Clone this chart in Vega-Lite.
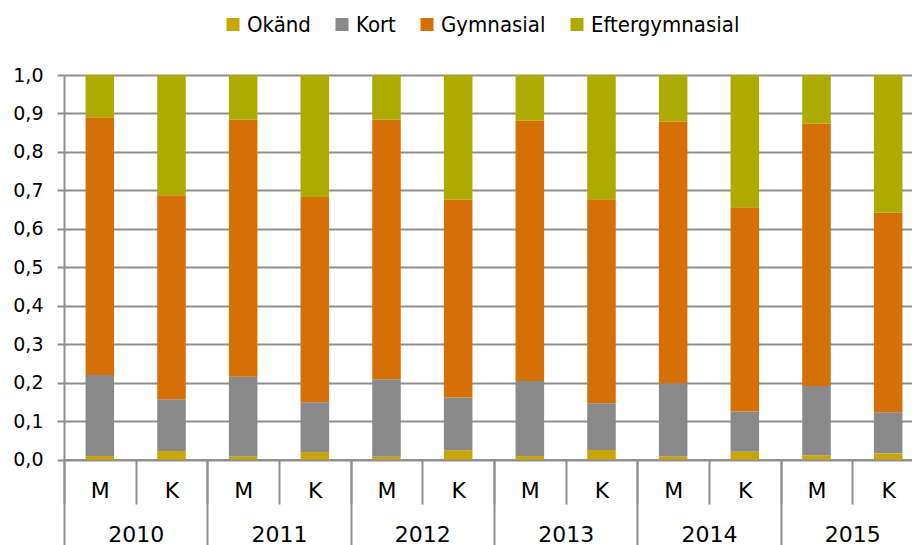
{
  "$schema": "https://vega.github.io/schema/vega-lite/v6.json",
  "width": 848,
  "height": 384.5,
  "autosize": {"type": "none"},
  "padding": {"left": 64, "top": 75, "right": 0, "bottom": 85.5},
  "background": "white",
  "config": {
    "view": {"stroke": null},
    "axis": {"labelFont": "DejaVu Sans", "labelColor": "#000000", "domainColor": "#8f8f8f", "tickColor": "#8f8f8f", "gridColor": "#8f8f8f", "domainWidth": 2, "tickWidth": 2, "gridWidth": 2, "title": null, "labelOverlap": false}
  },
  "data": {"values": [
    {"year":"2010","key":"2010 M","cat":"Okänd","ord":1,"value":0.009},
    {"year":"2010","key":"2010 M","cat":"Kort","ord":2,"value":0.211},
    {"year":"2010","key":"2010 M","cat":"Gymnasial","ord":3,"value":0.670},
    {"year":"2010","key":"2010 M","cat":"Eftergymnasial","ord":4,"value":0.110},
    {"year":"2010","key":"2010 K","cat":"Okänd","ord":1,"value":0.022},
    {"year":"2010","key":"2010 K","cat":"Kort","ord":2,"value":0.135},
    {"year":"2010","key":"2010 K","cat":"Gymnasial","ord":3,"value":0.530},
    {"year":"2010","key":"2010 K","cat":"Eftergymnasial","ord":4,"value":0.313},
    {"year":"2011","key":"2011 M","cat":"Okänd","ord":1,"value":0.008},
    {"year":"2011","key":"2011 M","cat":"Kort","ord":2,"value":0.207},
    {"year":"2011","key":"2011 M","cat":"Gymnasial","ord":3,"value":0.669},
    {"year":"2011","key":"2011 M","cat":"Eftergymnasial","ord":4,"value":0.116},
    {"year":"2011","key":"2011 K","cat":"Okänd","ord":1,"value":0.019},
    {"year":"2011","key":"2011 K","cat":"Kort","ord":2,"value":0.130},
    {"year":"2011","key":"2011 K","cat":"Gymnasial","ord":3,"value":0.534},
    {"year":"2011","key":"2011 K","cat":"Eftergymnasial","ord":4,"value":0.317},
    {"year":"2012","key":"2012 M","cat":"Okänd","ord":1,"value":0.007},
    {"year":"2012","key":"2012 M","cat":"Kort","ord":2,"value":0.202},
    {"year":"2012","key":"2012 M","cat":"Gymnasial","ord":3,"value":0.675},
    {"year":"2012","key":"2012 M","cat":"Eftergymnasial","ord":4,"value":0.116},
    {"year":"2012","key":"2012 K","cat":"Okänd","ord":1,"value":0.024},
    {"year":"2012","key":"2012 K","cat":"Kort","ord":2,"value":0.137},
    {"year":"2012","key":"2012 K","cat":"Gymnasial","ord":3,"value":0.515},
    {"year":"2012","key":"2012 K","cat":"Eftergymnasial","ord":4,"value":0.324},
    {"year":"2013","key":"2013 M","cat":"Okänd","ord":1,"value":0.009},
    {"year":"2013","key":"2013 M","cat":"Kort","ord":2,"value":0.195},
    {"year":"2013","key":"2013 M","cat":"Gymnasial","ord":3,"value":0.677},
    {"year":"2013","key":"2013 M","cat":"Eftergymnasial","ord":4,"value":0.119},
    {"year":"2013","key":"2013 K","cat":"Okänd","ord":1,"value":0.025},
    {"year":"2013","key":"2013 K","cat":"Kort","ord":2,"value":0.121},
    {"year":"2013","key":"2013 K","cat":"Gymnasial","ord":3,"value":0.531},
    {"year":"2013","key":"2013 K","cat":"Eftergymnasial","ord":4,"value":0.323},
    {"year":"2014","key":"2014 M","cat":"Okänd","ord":1,"value":0.008},
    {"year":"2014","key":"2014 M","cat":"Kort","ord":2,"value":0.190},
    {"year":"2014","key":"2014 M","cat":"Gymnasial","ord":3,"value":0.681},
    {"year":"2014","key":"2014 M","cat":"Eftergymnasial","ord":4,"value":0.121},
    {"year":"2014","key":"2014 K","cat":"Okänd","ord":1,"value":0.020},
    {"year":"2014","key":"2014 K","cat":"Kort","ord":2,"value":0.105},
    {"year":"2014","key":"2014 K","cat":"Gymnasial","ord":3,"value":0.531},
    {"year":"2014","key":"2014 K","cat":"Eftergymnasial","ord":4,"value":0.344},
    {"year":"2015","key":"2015 M","cat":"Okänd","ord":1,"value":0.011},
    {"year":"2015","key":"2015 M","cat":"Kort","ord":2,"value":0.180},
    {"year":"2015","key":"2015 M","cat":"Gymnasial","ord":3,"value":0.682},
    {"year":"2015","key":"2015 M","cat":"Eftergymnasial","ord":4,"value":0.127},
    {"year":"2015","key":"2015 K","cat":"Okänd","ord":1,"value":0.016},
    {"year":"2015","key":"2015 K","cat":"Kort","ord":2,"value":0.107},
    {"year":"2015","key":"2015 K","cat":"Gymnasial","ord":3,"value":0.519},
    {"year":"2015","key":"2015 K","cat":"Eftergymnasial","ord":4,"value":0.358}
  ]},
  "layer": [
    {
      "mark": {"type": "bar", "width": {"band": 0.398}},
      "encoding": {
        "x": {
          "field": "key", "type": "nominal",
          "scale": {"type": "band", "domain": ["2010 M","2010 K","2011 M","2011 K","2012 M","2012 K","2013 M","2013 K","2014 M","2014 K","2015 M","2015 K"], "paddingInner": 0, "paddingOuter": 0, "range": [0, 860]},
          "axis": {"orient": "bottom", "labelExpr": "split(datum.label, ' ')[1]", "labelAngle": 0, "tickBand": "extent", "tickSize": 44.5, "labelPadding": -14, "labelBaseline": "middle", "labelFontSize": 22, "grid": false}
        },
        "y": {
          "field": "value", "type": "quantitative", "stack": "zero",
          "scale": {"domain": [0, 1], "nice": false},
          "axis": {"values": [0,0.1,0.2,0.3,0.4,0.5,0.6,0.7,0.8,0.9,1.0], "labelExpr": "replace(format(datum.value, '.1f'), '.', ',')", "tickSize": 7, "labelPadding": 14, "labelFontSize": 19, "grid": true}
        },
        "color": {
          "field": "cat", "type": "nominal",
          "scale": {"domain": ["Okänd","Kort","Gymnasial","Eftergymnasial"], "range": ["#C9A500","#898989","#D47006","#ADAA00"]},
          "legend": {"orient": "none", "legendX": 158, "legendY": -61.5, "direction": "horizontal", "title": null, "symbolType": "square", "symbolSize": 169, "symbolStrokeWidth": 0, "symbolOpacity": 1, "labelFont": "DejaVu Sans Condensed", "labelFontSize": 22, "labelColor": "#000000", "labelOffset": 3, "columnPadding": 20, "padding": 0}
        },
        "order": {"field": "ord", "type": "quantitative"}
      }
    },
    {
      "mark": {"type": "point", "opacity": 0},
      "encoding": {
        "x": {
          "field": "year", "type": "nominal",
          "scale": {"type": "band", "domain": ["2010","2011","2012","2013","2014","2015"], "paddingInner": 0, "paddingOuter": 0, "range": [0, 860]},
          "axis": {"orient": "bottom", "labelAngle": 0, "tickBand": "extent", "tickSize": 85.5, "labelPadding": -11, "labelBaseline": "middle", "labelFontSize": 22, "domain": false, "grid": false}
        },
        "y": {
          "field": "value", "type": "quantitative",
          "scale": {"domain": [0, 1], "nice": false},
          "axis": {"values": [0,0.1,0.2,0.3,0.4,0.5,0.6,0.7,0.8,0.9,1.0], "labelExpr": "replace(format(datum.value, '.1f'), '.', ',')", "tickSize": 7, "labelPadding": 14, "labelFontSize": 19, "grid": true}
        }
      }
    }
  ],
  "resolve": {"scale": {"x": "independent"}, "axis": {"x": "independent"}}
}
